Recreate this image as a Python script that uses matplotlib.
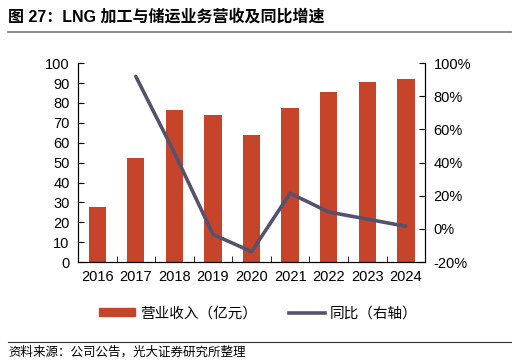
import matplotlib.pyplot as plt
from matplotlib.lines import Line2D
import numpy as np

plt.rcParams['font.family'] = ['Liberation Sans', 'Noto Sans CJK SC']

years = ['2016', '2017', '2018', '2019', '2020', '2021', '2022', '2023', '2024']
revenue = [27.5, 52.3, 76.4, 73.9, 63.8, 77.5, 85.3, 90.3, 91.8]
yoy = [np.nan, 92, 46, -3.3, -13.7, 21.5, 10.2, 5.9, 1.6]

bar_color = '#C5442A'
line_color = '#55526E'

fig = plt.figure(figsize=(5.16, 3.63), dpi=100)
ax = fig.add_axes([0.151, 0.278, 0.673, 0.548])
x = np.arange(len(years))
ax.bar(x, revenue, width=0.45, color=bar_color, zorder=2)
ax.set_ylim(0, 100)
ax.set_yticks(range(0, 101, 10))
ax.set_xlim(-0.5, len(years) - 0.5)
ax.set_xticks(x)
ax.set_xticklabels(years)
ax.set_xticks(np.arange(-0.5, len(years), 1), minor=True)
ax.tick_params(axis='x', which='major', length=0, pad=6, labelsize=10.5)
ax.tick_params(axis='x', which='minor', direction='in', length=4)
ax.tick_params(axis='y', direction='in', length=4, labelsize=10.5, pad=6)
ax.spines['top'].set_visible(False)

ax2 = ax.twinx()
ax2.plot(x, yoy, color=line_color, lw=2.6, solid_capstyle='round')
ax2.set_ylim(-20, 100)
ax2.set_yticks(range(-20, 101, 20))
ax2.set_yticklabels([f'{v}%' for v in range(-20, 101, 20)])
ax2.tick_params(axis='y', direction='in', length=4, labelsize=10.5, pad=6)
ax2.spines['top'].set_visible(False)

handles = [plt.Rectangle((0, 0), 1, 1, color=bar_color),
           Line2D([0], [0], color=line_color, lw=2.6)]
fig.legend(handles, ['营业收入（亿元）', '同比（右轴）'], loc='center',
           bbox_to_anchor=(0.5, 0.137), ncol=2, frameon=False, fontsize=10.5,
           handlelength=2.5, handleheight=0.45, columnspacing=2.2, handletextpad=0.3)

fig.text(0.016, 0.953, '图 27：LNG 加工与储运业务营收及同比增速', fontsize=11.5,
         fontweight='bold', va='center', ha='left')
fig.add_artist(Line2D([0.016, 0.99], [0.912, 0.912], color='#777777', lw=1.2))
fig.add_artist(Line2D([0.016, 0.99], [0.058, 0.058], color='#333333', lw=0.8))
fig.text(0.016, 0.03, '资料来源：公司公告，光大证券研究所整理', fontsize=9,
         va='center', ha='left')

fig.savefig('out.png', dpi=100)
